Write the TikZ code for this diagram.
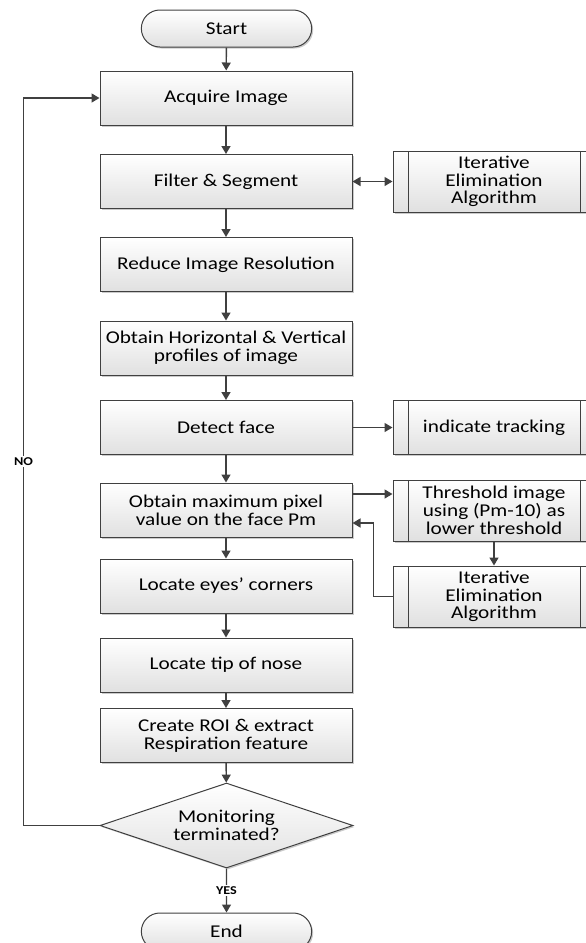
\documentclass[tikz,border=0pt]{standalone}
\usepackage{fontspec}
\setmainfont{Carlito}[FakeStretch=1.18]
\usetikzlibrary{shapes.geometric, shapes.misc, arrows.meta, shadows}

\definecolor{linegray}{HTML}{404040}

\tikzset{
    box/.style={draw=linegray, line width=1pt, top color=white, bottom color=black!12,
        drop shadow={shadow xshift=1.5pt, shadow yshift=-1.5pt, fill=black!35, opacity=.6},
        align=center, font=\fontsize{18}{17.7}\selectfont},
    proc/.style={box, minimum width=252pt, minimum height=54pt},
    term/.style={box, rounded rectangle, minimum width=177pt, minimum height=37pt},
    decide/.style={box, diamond, aspect=3, minimum width=253pt, minimum height=85pt, inner sep=0pt},
    predef/.style={box, minimum width=202pt, minimum height=61pt,
        path picture={
            \draw[linegray, line width=1pt] ([xshift=15pt]path picture bounding box.north west) -- ([xshift=15pt]path picture bounding box.south west);
            \draw[linegray, line width=1pt] ([xshift=-15pt]path picture bounding box.north east) -- ([xshift=-15pt]path picture bounding box.south east);
        }},
    arr/.style={draw=linegray, line width=1.4pt, -{Triangle[length=8pt,width=9pt]}},
    lbl/.style={font=\fontsize{12}{12}\selectfont\bfseries, fill=white, inner sep=1.5pt},
}

\begin{document}
\begin{tikzpicture}[x=1pt,y=-1pt]
    \useasboundingbox (0,0) rectangle (586,943);
    \clip (0,0) rectangle (586,943);

    \node[term] at (226.5, 28.5)    (start) {Start};
    \node[proc] at (226, 98)        (acq)   {Acquire Image};
    \node[proc] at (226, 181.5)     (filt)  {Filter \& Segment};
    \node[proc] at (226, 264.5)     (red)   {Reduce Image Resolution};
    \node[proc] at (226, 348)       (prof)  {Obtain Horizontal \& Vertical\\profiles of image};
    \node[proc] at (226, 427.5)     (det)   {Detect face};
    \node[proc] at (226, 510)       (pm)    {Obtain maximum pixel\\value on the face Pm};
    \node[proc] at (226, 586)       (eyes)  {Locate eyes’ corners};
    \node[proc] at (226, 665)       (nose)  {Locate tip of nose};
    \node[proc] at (226, 735.5)     (roi)   {Create ROI \& extract\\Respiration feature};
    \node[decide] at (226.5, 825.5) (mon)   {Monitoring\\terminated?};
    \node[term] at (226.5, 931.5)   (end)   {End};

    \node[predef] at (494, 181.5)   (iea1)  {Iterative\\Elimination\\Algorithm};
    \node[predef, minimum height=54pt] at (494, 427.5) (track) {indicate tracking};
    \node[predef] at (494, 510.5)   (thr)   {Threshold image\\using (Pm-10) as\\lower threshold};
    \node[predef] at (494, 596.5)   (iea2)  {Iterative\\Elimination\\Algorithm};

    \draw[arr] (start) -- (acq);
    \draw[arr] (acq) -- (filt);
    \draw[arr, {Triangle[length=8pt,width=9pt]}-{Triangle[length=8pt,width=9pt]}] (filt) -- (iea1);
    \draw[arr] (filt) -- (red);
    \draw[arr] (red) -- (prof);
    \draw[arr] (prof) -- (det);
    \draw[arr] (det) -- (track);
    \draw[arr] (det) -- (pm);
    \draw[arr] ([yshift=16pt]pm.east) -- ([yshift=16pt]pm.east -| thr.west);
    \draw[arr] (thr) -- (iea2);
    \draw[arr] (iea2.west) -- ++(-19,0) |- ([yshift=-13pt]pm.east);
    \draw[arr] (pm) -- (eyes);
    \draw[arr] (eyes) -- (nose);
    \draw[arr] (nose) -- (roi);
    \draw[arr] (roi) -- (mon);
    \draw[arr] (mon) -- (end) node[lbl, midway] {YES};
    \draw[arr] (mon.west) -- ++(-76,0) |- (acq.west) node[lbl, pos=0.25] {NO};
\end{tikzpicture}
\end{document}
